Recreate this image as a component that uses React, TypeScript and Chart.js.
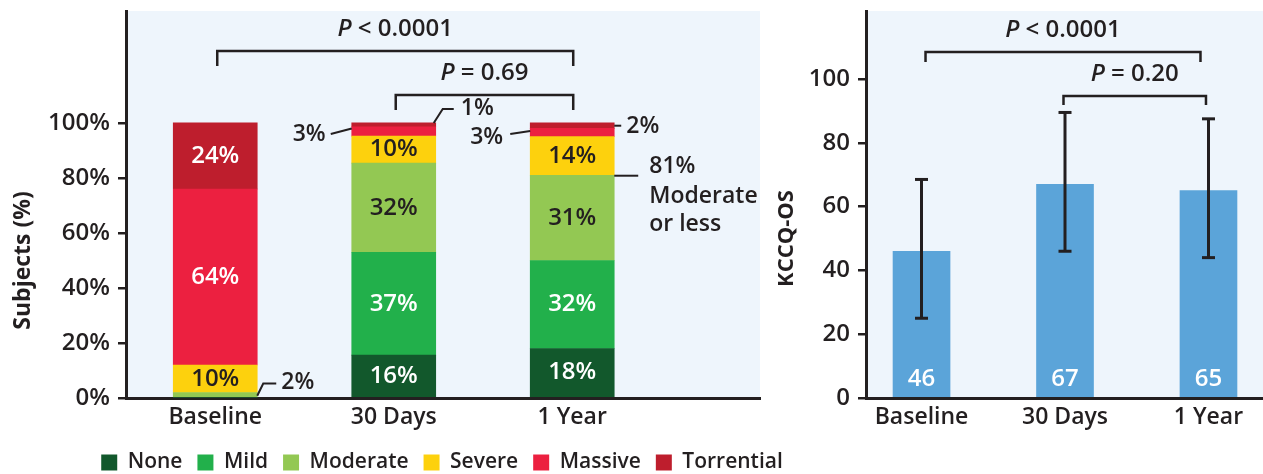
import React, { useEffect, useRef } from 'react';
import { Chart, registerables } from 'chart.js';

Chart.register(...registerables);

// ---------- data ----------
const timepoints = ['Baseline', '30 Days', '1 Year'];
const severityNames = ['None', 'Mild', 'Moderate', 'Severe', 'Massive', 'Torrential'];
const noneValues = [0, 15.6, 18];
const mildValues = [0, 37.4, 32];
const moderateValues = [2, 32.4, 31];
const severeValues = [10, 9.8, 14];
const massiveValues = [64, 3.4, 3];
const torrentialValues = [24, 1.4, 2];
const percentTicks = [0, 20, 40, 60, 80, 100];

const tvrPFrom = [0, 1];
const tvrPTo = [2, 2];
const tvrPText = ['< 0.0001', '= 0.69'];

const kccqMeans = [46, 67, 65];
const kccqLow = [25, 46, 44];
const kccqHigh = [68.5, 89.5, 87.5];
const kccqTicks = [0, 20, 40, 60, 80, 100];

const kccqPFrom = [0, 1];
const kccqPTo = [2, 2];
const kccqPText = ['< 0.0001', '= 0.20'];

// ---------- style ----------
const FONT = "'Open Sans', 'Noto Sans', sans-serif";
const INK = '#231F20';
const PANEL = '#EEF5FC';
const severityColors = ['#12582C', '#22B04B', '#93C853', '#FDD10D', '#EC2040', '#BE1E2D'];
const severityTextColors = ['#FFFFFF', '#FFFFFF', INK, INK, '#FFFFFF', '#FFFFFF'];
const KCCQ_BLUE = '#5BA4D9';
const W = '600';

const severitySeries = [noneValues, mildValues, moderateValues, severeValues, massiveValues, torrentialValues];

function drawPLabel(ctx: any, cx: number, cy: number, rest: string, size: number) {
  ctx.save();
  ctx.fillStyle = INK;
  ctx.textBaseline = 'middle';
  ctx.textAlign = 'left';
  ctx.font = `italic ${W} ${size}px ${FONT}`;
  const wP = ctx.measureText('P').width;
  ctx.font = `${W} ${size}px ${FONT}`;
  const wR = ctx.measureText(' ' + rest).width;
  const start = cx - (wP + wR) / 2;
  ctx.font = `italic ${W} ${size}px ${FONT}`;
  ctx.fillText('P', start, cy);
  ctx.font = `${W} ${size}px ${FONT}`;
  ctx.fillText(' ' + rest, start + wP, cy);
  ctx.restore();
}

function drawBracket(ctx: any, x1: number, x2: number, y: number, drop: number) {
  ctx.save();
  ctx.strokeStyle = INK;
  ctx.lineWidth = 2.5;
  ctx.lineJoin = 'miter';
  ctx.beginPath();
  ctx.moveTo(x1, y + drop);
  ctx.lineTo(x1, y);
  ctx.lineTo(x2, y);
  ctx.lineTo(x2, y + drop);
  ctx.stroke();
  ctx.restore();
}

function line(ctx: any, pts: number[][], w = 2) {
  ctx.save();
  ctx.strokeStyle = INK;
  ctx.lineWidth = w;
  ctx.beginPath();
  ctx.moveTo(pts[0][0], pts[0][1]);
  for (let i = 1; i < pts.length; i++) ctx.lineTo(pts[i][0], pts[i][1]);
  ctx.stroke();
  ctx.restore();
}

function text(ctx: any, s: string, x: number, y: number, align: string, size: number, color = INK, weight = W) {
  ctx.save();
  ctx.fillStyle = color;
  ctx.font = `${weight} ${size}px ${FONT}`;
  ctx.textAlign = align;
  ctx.textBaseline = 'middle';
  ctx.fillText(s, x, y);
  ctx.restore();
}

const panelPlugin = {
  id: 'panelBg',
  beforeDraw(chart: any) {
    const { ctx, chartArea } = chart;
    ctx.save();
    ctx.fillStyle = PANEL;
    ctx.fillRect(chartArea.left, chartArea.top, chartArea.right - chartArea.left, chartArea.bottom - chartArea.top);
    ctx.restore();
  },
};

const leftAnnotations = {
  id: 'leftAnnotations',
  afterDatasetsDraw(chart: any) {
    const { ctx, chartArea } = chart;
    const xs = chart.scales.x;
    const ys = chart.scales.y;
    const seg = (d: number, i: number) => {
      const el: any = chart.getDatasetMeta(d).data[i];
      return {
        left: el.x - el.width / 2,
        right: el.x + el.width / 2,
        top: Math.min(el.y, el.base),
        bottom: Math.max(el.y, el.base),
        mid: (el.y + el.base) / 2,
        x: el.x,
      };
    };
    // labels inside segments
    severitySeries.forEach((vals, d) => {
      vals.forEach((v, i) => {
        if (Math.round(v) < 10) return;
        const s = seg(d, i);
        text(ctx, Math.round(v) + '%', s.x, s.mid, 'center', 24, severityTextColors[d]);
      });
    });
    // callouts for small segments
    let s = seg(2, 0);
    line(ctx, [[s.right, s.bottom - 1], [s.right + 6, s.mid - 11], [s.right + 19, s.mid - 11]]);
    text(ctx, Math.round(moderateValues[0]) + '%', s.right + 24, s.mid - 12, 'left', 23);

    s = seg(4, 1);
    line(ctx, [[s.left, s.mid - 3], [s.left - 21, s.mid + 2.5]]);
    text(ctx, Math.round(massiveValues[1]) + '%', s.left - 26, s.mid + 2.5, 'right', 23);

    s = seg(5, 1);
    line(ctx, [[s.right - 2, s.top], [s.right + 7, s.top - 14], [s.right + 18, s.top - 14]]);
    text(ctx, Math.round(torrentialValues[1]) + '%', s.right + 25, s.top - 14, 'left', 23);

    s = seg(4, 2);
    line(ctx, [[s.left, s.mid - 1.5], [s.left - 20, s.mid + 1.5]]);
    text(ctx, Math.round(massiveValues[2]) + '%', s.left - 27, s.mid + 4.5, 'right', 23);

    s = seg(5, 2);
    line(ctx, [[s.right, s.mid], [s.right + 7, s.mid]]);
    text(ctx, Math.round(torrentialValues[2]) + '%', s.right + 12, s.mid + 1, 'left', 23);

    s = seg(2, 2);
    line(ctx, [[s.right, s.top + 0.5], [s.right + 24, s.top + 0.5]]);
    const modOrLess = Math.round(noneValues[2] + mildValues[2] + moderateValues[2]);
    text(ctx, modOrLess + '%', s.right + 35, s.top - 9, 'left', 23);
    text(ctx, 'Moderate', s.right + 35, s.top + 21, 'left', 23);
    text(ctx, 'or less', s.right + 35, s.top + 49, 'left', 23);

    // significance brackets
    const levels = [40, 84];
    tvrPText.forEach((t, k) => {
      const x1 = xs.getPixelForValue(tvrPFrom[k]) + 2;
      const x2 = xs.getPixelForValue(tvrPTo[k]) + 1;
      const y = chartArea.top + levels[k];
      drawBracket(ctx, x1, x2, y, 15);
      drawPLabel(ctx, (x1 + x2) / 2, y - 22, t, 24);
    });

    // y-axis title
    ctx.save();
    ctx.translate(23, (ys.getPixelForValue(0) + ys.getPixelForValue(100)) / 2);
    ctx.rotate(-Math.PI / 2);
    text(ctx, 'Subjects (%)', 0, 0, 'center', 23, INK, 'bold');
    ctx.restore();
  },
};

const rightAnnotations = {
  id: 'rightAnnotations',
  afterDatasetsDraw(chart: any) {
    const { ctx, chartArea } = chart;
    const xs = chart.scales.x;
    const ys = chart.scales.y;
    const meta = chart.getDatasetMeta(0);
    meta.data.forEach((el: any, i: number) => {
      text(ctx, String(kccqMeans[i]), el.x, el.base - 18, 'center', 24, '#FFFFFF');
      const yH = ys.getPixelForValue(kccqHigh[i]);
      const yL = ys.getPixelForValue(kccqLow[i]);
      line(ctx, [[el.x, yH], [el.x, yL]], 3);
      line(ctx, [[el.x - 6.5, yH], [el.x + 6.5, yH]], 3);
      line(ctx, [[el.x - 6.5, yL], [el.x + 6.5, yL]], 3);
    });
    const levels = [41, 85];
    const drops = [10, 9];
    const offs = [[4, -8], [-1.5, -2.5]];
    kccqPText.forEach((t, k) => {
      const x1 = xs.getPixelForValue(kccqPFrom[k]) + offs[k][0];
      const x2 = xs.getPixelForValue(kccqPTo[k]) + offs[k][1];
      const y = chartArea.top + levels[k];
      drawBracket(ctx, x1, x2, y, drops[k]);
      drawPLabel(ctx, (x1 + x2) / 2, y - 22, t, 24);
    });
    ctx.save();
    ctx.translate(27, (ys.getPixelForValue(0) + ys.getPixelForValue(100)) / 2);
    ctx.rotate(-Math.PI / 2);
    text(ctx, 'KCCQ-OS', 0, 0, 'center', 22, INK, 'bold');
    ctx.restore();
  },
};

export default function App() {
  const leftRef = useRef<HTMLCanvasElement>(null);
  const rightRef = useRef<HTMLCanvasElement>(null);

  useEffect(() => {
    const xTickFont = { family: FONT, size: 23, weight: W };
    const yTickFont = { family: FONT, size: 24, weight: W };
    const left = new Chart(leftRef.current as HTMLCanvasElement, {
      type: 'bar',
      data: {
        datasets: severitySeries.map((vals, k) => ({
          label: severityNames[k],
          data: vals.map((v, i) => ({ x: i, y: v })),
          backgroundColor: severityColors[k],
          borderWidth: 0,
          barThickness: 84,
        })),
      },
      options: {
        responsive: false,
        animation: false,
        events: [],
        layout: { padding: { top: 11, left: 0, right: 0, bottom: 0 } },
        scales: {
          x: {
            type: 'linear',
            stacked: true,
            offset: false,
            min: -0.5,
            max: 3.052,
            afterBuildTicks: (s: any) => {
              s.ticks = timepoints.map((_, i) => ({ value: i }));
            },
            ticks: {
              callback: (v: any) => timepoints[v] ?? '',
              font: xTickFont,
              color: INK,
              padding: 6,
              maxRotation: 0,
              autoSkip: false,
            },
            grid: { display: false, drawTicks: false },
            border: { display: true, color: INK, width: 3 },
            afterFit: (s: any) => {
              s.height = 39;
              s.paddingLeft = 0;
              s.paddingRight = 0;
            },
          },
          y: {
            stacked: true,
            min: 0,
            max: 140.7,
            afterBuildTicks: (s: any) => {
              s.ticks = percentTicks.map((v) => ({ value: v }));
            },
            ticks: { callback: (v: any) => v + '%', font: yTickFont, color: INK, padding: 8 },
            grid: { drawOnChartArea: false, drawTicks: true, tickLength: 8, color: INK, lineWidth: 2.5 },
            border: { display: true, color: INK, width: 3 },
            afterFit: (s: any) => {
              s.width = 126;
              s.paddingTop = 0;
              s.paddingBottom = 0;
            },
          },
          pad: {
            type: 'linear',
            position: 'right',
            display: true,
            grid: { display: false },
            border: { display: false },
            ticks: { display: false },
            afterFit: (s: any) => {
              s.width = 124;
            },
          },
        },
        plugins: {
          legend: {
            display: true,
            position: 'bottom',
            align: 'center',
            labels: {
              boxWidth: 16,
              boxHeight: 16,
              padding: 15,
              color: INK,
              font: { family: FONT, size: 21, weight: W },
            },
          },
          tooltip: { enabled: false },
        },
      } as any,
      plugins: [panelPlugin, leftAnnotations],
    });

    const right = new Chart(rightRef.current as HTMLCanvasElement, {
      type: 'bar',
      data: {
        datasets: [
          {
            label: 'KCCQ-OS',
            data: kccqMeans.map((v, i) => ({ x: i, y: v })),
            backgroundColor: KCCQ_BLUE,
            borderWidth: 0,
            barThickness: 57,
          },
        ],
      },
      options: {
        responsive: false,
        animation: false,
        events: [],
        layout: { padding: { top: 11, left: 0, right: 0, bottom: 0 } },
        scales: {
          x: {
            type: 'linear',
            offset: false,
            min: -0.387,
            max: 2.38,
            afterBuildTicks: (s: any) => {
              s.ticks = timepoints.map((_, i) => ({ value: i }));
            },
            ticks: {
              callback: (v: any) => timepoints[v] ?? '',
              font: xTickFont,
              color: INK,
              padding: 6,
              maxRotation: 0,
              autoSkip: false,
            },
            grid: { display: false, drawTicks: false },
            border: { display: true, color: INK, width: 3 },
            afterFit: (s: any) => {
              s.height = 76;
              s.paddingLeft = 0;
              s.paddingRight = 0;
            },
          },
          y: {
            min: 0,
            max: 121.3,
            afterBuildTicks: (s: any) => {
              s.ticks = kccqTicks.map((v) => ({ value: v }));
            },
            ticks: { font: yTickFont, color: INK, padding: 8 },
            grid: { drawOnChartArea: false, drawTicks: true, tickLength: 8, color: INK, lineWidth: 2.5 },
            border: { display: true, color: INK, width: 3 },
            afterFit: (s: any) => {
              s.width = 106;
              s.paddingTop = 0;
              s.paddingBottom = 0;
            },
          },
        },
        plugins: {
          legend: { display: false },
          tooltip: { enabled: false },
        },
      } as any,
      plugins: [panelPlugin, rightAnnotations],
    });

    return () => {
      left.destroy();
      right.destroy();
    };
  }, []);

  return (
    <div
      style={{
        position: 'absolute',
        left: 0,
        top: 0,
        width: 1263,
        height: 474,
        overflow: 'hidden',
        background: '#FFFFFF',
      }}
    >
      <canvas
        ref={leftRef}
        width={884}
        height={483}
        style={{ position: 'absolute', left: 0, top: 0, width: 884, height: 483 }}
      />
      <canvas
        ref={rightRef}
        width={503}
        height={474}
        style={{ position: 'absolute', left: 760, top: 0, width: 503, height: 474 }}
      />
    </div>
  );
}
